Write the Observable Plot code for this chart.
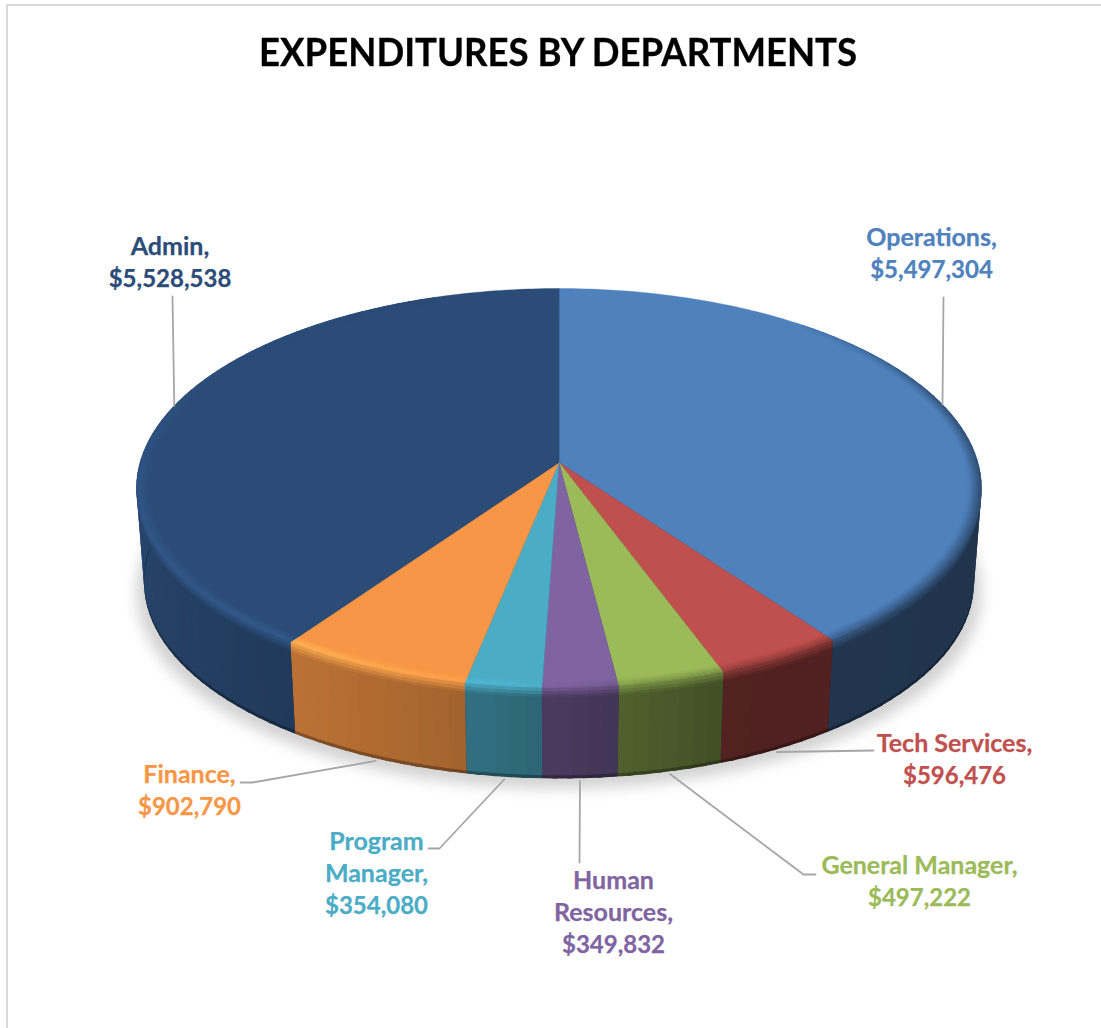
<!DOCTYPE html>
<html>
<head>
<meta charset="utf-8">
<script src="https://cdn.jsdelivr.net/npm/d3@7"></script>
<script src="https://cdn.jsdelivr.net/npm/@observablehq/plot@0.6"></script>
<style>
  html, body { margin: 0; padding: 0; background: #fff; }
  body { width: 1101px; height: 1028px; overflow: hidden; position: relative; }
  #frame { position: absolute; left: 6px; top: 4px; right: 0; bottom: -4px; border-left: 2px solid #d9d9d9; border-top: 2px solid #d9d9d9; pointer-events: none; z-index: 2; }
  h1 { margin: 0; height: 94px; width: 1117px; text-align: center; font: 700 39px/103px Lato, sans-serif; color: #000; }
  h1 span { display: inline-block; transform: scaleX(0.937); transform-origin: center; white-space: nowrap; -webkit-text-stroke: 0.3px #000; }
  svg { display: block; }
</style>
</head>
<body>
<div id="frame"></div>
<h1><span>EXPENDITURES BY DEPARTMENTS</span></h1>
<script>
// Data, clockwise from twelve o'clock
const departments = ["Operations", "Tech Services", "General Manager", "Human Resources", "Program Manager", "Finance", "Admin"];
const values = [5497304, 596476, 497222, 349832, 354080, 902790, 5528538];
const sliceColors = ["#4f81bd", "#c0504d", "#9bbb59", "#8064a2", "#4bacc6", "#f79646", "#2b4c77"];
const nameLines = [
  ["Operations,"], ["Tech Services,"], ["General Manager,"],
  ["Human", "Resources,"], ["Program", "Manager,"], ["Finance,"], ["Admin,"]
];
const valueLines = ["$5,497,304", "$596,476", "$497,222", "$349,832", "$354,080", "$902,790", "$5,528,538"];

// Layout: label block centres and leader elbows, in the order of departments
const labelAt = [[931, 253], [954, 759], [919, 881], [613, 912], [376, 873], [189, 790], [169.5, 262]];
const leaderVia = [[[943, 297]], [[873, 750]], [[803, 874], [815, 874]], [[579, 862]], [[439, 848], [428, 848]], [[252, 782], [240, 782]], [[172, 296]]];
const leaderOnTop = [true, false, false, false, false, false, true];
const lineStep = 32;

// Perspective of the disc
const W = 1101, H = 1028, T = 94;
const cx = 558.5, cy = 462, R = 419, Sy = 196.4, k = 0.1289, depth = 94.6, narrow = 0.018;
const deg = Math.PI / 180;
function proj(aDeg, t, d) {
  const a = aDeg * deg, s = 1 - narrow * d, w = 1 + k * t * Math.cos(a);
  return [cx + s * R * t * Math.sin(a) / w, cy + depth * d - s * Sy * t * Math.cos(a) / w];
}

const total = d3.sum(values);
let run = 0;
const slices = values.map((v, i) => {
  const a0 = run / total * 360; run += v; const a1 = run / total * 360;
  return {i, name: departments[i], value: v, color: sliceColors[i], a0, a1, mid: (a0 + a1) / 2};
});

// Lighting as a function of the angle round the rim
const shade = d3.scaleLinear([98, 160, 178, 195, 225, 262], [0.4, 0.42, 0.56, 0.68, 0.8, 0.9]).clamp(true);
const rimLight = d3.scaleLinear([40, 70, 100, 170, 183, 215, 265, 300, 340], [0, -0.5, -0.6, -0.35, 0.04, 0.2, 0.12, 0.05, 0]).clamp(true);
const mix = (c1, c2, t) => d3.interpolateRgb(c1, c2)(t);
const sideColor = (c, a) => mix("#000", c, shade(a));
const hilite = (c, a) => { const h = rimLight(a); return h >= 0 ? d3.rgb(c).brighter(h * 2.5).formatRgb() : mix(c, sideColor(c, a), -h); };
const visible = (a) => a >= 97 && a <= 263;

// each strip overlaps the next one a little so that no seam shows
const polys = [];
let pid = 0;
function band(list, a0, a1, from, to, color) {
  const id = pid++;
  [proj(a0, from[0], from[1]), proj(a1, from[0], from[1]), proj(a1, to[0], to[1]), proj(a0, to[0], to[1])]
    .forEach(([x, y]) => list.push({id, x, y, color}));
}

// dark underlay of the wall
const underlay = d3.range(0, 361, 2).map(a => { const [x, y] = proj(a, 1, 0.995); return {x, y}; });

// side walls
for (const s of slices) {
  const n = Math.max(1, Math.ceil((s.a1 - s.a0) / 2));
  for (let j = 0; j < n; j++) {
    const a0 = s.a0 + (s.a1 - s.a0) * j / n, a1 = s.a0 + (s.a1 - s.a0) * (j + 1) / n, m = (a0 + a1) / 2;
    if (a1 < 90 || a0 > 270) continue;
    const c = sideColor(s.color, m), end = Math.min(a1 + 0.6, s.a1);
    band(polys, a0, end, [1, 0.95], [1, 1], mix(c, "#000", 0.3));
    band(polys, a0, end, [1, 0], [1, 0.965], c);
  }
}

// top faces
const topFaces = [];
for (const s of slices) {
  const pts = [[cx, cy]];
  const n = Math.max(2, Math.ceil(s.a1 - s.a0));
  for (let j = 0; j <= n; j++) pts.push(proj(s.a0 + (s.a1 - s.a0) * j / n, 1, 0));
  pts.forEach(([x, y]) => topFaces.push({id: s.i, x, y, color: s.color}));
}

// bevel on the rim: colour runs from top face, through the highlight, into the wall
const bevelSteps = 10;
const bevel = (u) => u < 0.72 ? [0.968 + (1 - 0.968) * u / 0.72, 0] : [1, 0.1 * (u - 0.72) / 0.28];
const bevelPolys = [];
for (const s of slices) {
  const n = Math.max(1, Math.ceil((s.a1 - s.a0) / 2));
  for (let j = 0; j < n; j++) {
    const a0 = s.a0 + (s.a1 - s.a0) * j / n, a1 = s.a0 + (s.a1 - s.a0) * (j + 1) / n, m = (a0 + a1) / 2;
    if (m < 40 || m > 340) continue;
    const end = Math.min(a1 + 0.6, s.a1);
    for (let b = bevelSteps - 1; b >= 0; b--) {
      const u0 = b / bevelSteps, u1 = (b + 1) / bevelSteps, um = (u0 + u1) / 2;
      if (u0 >= 0.72 && !visible(m)) continue;
      const hi = hilite(s.color, m), side = sideColor(s.color, m);
      const col = um < 0.6 ? mix(s.color, hi, um / 0.6) : mix(hi, side, (um - 0.6) / 0.4);
      band(bevelPolys, a0, end, bevel(u0), bevel(Math.min(1, u1 + 0.02)), col);
    }
  }
}

// soft ground shadow: the bottom rim, grown and dropped
const shadow = d3.range(0, 361, 2).map(a => {
  const [x, y] = proj(a, 1, 1);
  return {x: cx + (x - cx) * 1.018, y: y + 10};
});

// leaders and labels derive their anchor from each slice's mid angle
const leaders = [];
slices.forEach((s, i) => {
  const start = leaderOnTop[i] ? proj(s.mid, 1, 0) : proj(s.mid, 1, 1.03);
  [start, ...leaderVia[i]].forEach(([x, y]) => leaders.push({id: i, x, y}));
});
const labelRows = [];
slices.forEach((s, i) => {
  const rows = [...nameLines[i], valueLines[i]];
  rows.forEach((text, l) => {
    const isValue = l === rows.length - 1;
    labelRows.push({
      x: labelAt[i][0], y: labelAt[i][1] + (isValue ? 1 : 0) + (l - (rows.length - 1) / 2) * lineStep,
      color: s.color, text, size: isValue ? 24 : 25
    });
  });
});

const chart = Plot.plot({
  width: W, height: H - T, margin: 0,
  x: {type: "linear", domain: [0, W], range: [0, W], axis: null},
  y: {type: "linear", domain: [T, H], range: [0, H - T], axis: null},
  color: {type: "identity"},
  marks: [
    Plot.line(shadow, {x: "x", y: "y", fill: "#d2d2d2", stroke: "none", curve: "linear-closed", imageFilter: "blur(7px)"}),
    Plot.line(underlay, {x: "x", y: "y", fill: "#1c2c40", stroke: "none", curve: "linear-closed"}),
    Plot.line(polys, {x: "x", y: "y", z: "id", fill: "color", stroke: "none", curve: "linear-closed"}),
    Plot.line(topFaces, {x: "x", y: "y", z: "id", fill: "color", stroke: "color", strokeWidth: 0.4, curve: "linear-closed"}),
    Plot.line(bevelPolys, {x: "x", y: "y", z: "id", fill: "color", stroke: "none", curve: "linear-closed"}),
    Plot.line(leaders, {x: "x", y: "y", z: "id", stroke: "#a6a6a6", strokeWidth: 1.8, curve: "linear"}),
    Plot.text(labelRows.filter(d => d.size === 25), {x: "x", y: "y", text: "text", fill: "color", stroke: "color", strokeWidth: 0.25, fontFamily: "Lato, sans-serif", fontWeight: 700, fontSize: 25, textAnchor: "middle"}),
    Plot.text(labelRows.filter(d => d.size === 24), {x: "x", y: "y", text: "text", fill: "color", stroke: "color", strokeWidth: 0.25, fontFamily: "Lato, sans-serif", fontWeight: 700, fontSize: 24, textAnchor: "middle"})
  ]
});
document.body.appendChild(chart);
</script>
</body>
</html>
